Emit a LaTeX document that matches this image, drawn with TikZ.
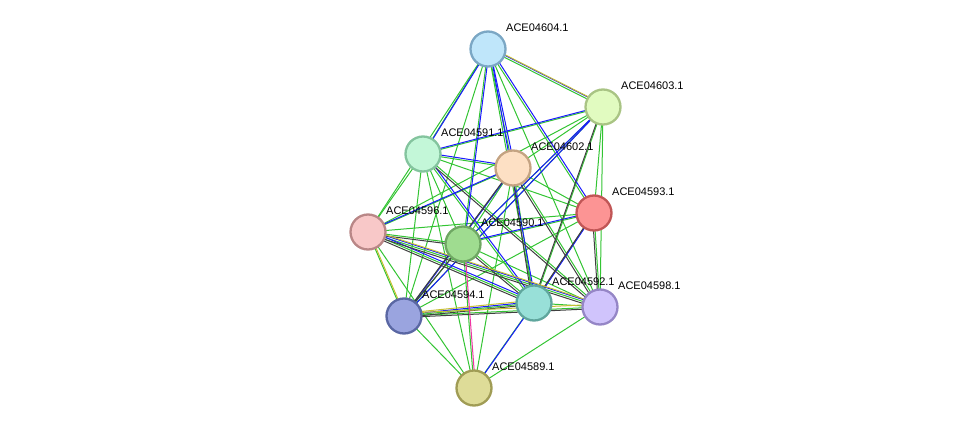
\documentclass[tikz,border=0pt]{standalone}
\usepackage{fontspec}
\setmainfont{Liberation Sans}
\begin{document}
\begin{tikzpicture}[x=1pt,y=-1pt,
  prot/.style={circle,minimum size=35pt,inner sep=0pt,line width=2.3pt},
  lab/.style={anchor=west,font=\fontsize{11}{12}\selectfont,inner sep=0pt},
  eb/.style={draw=blue!90,line width=1pt},
  ek/.style={draw=black!75,line width=1pt},
  ey/.style={draw=yellow!75!black,line width=1pt},
  em/.style={draw=magenta!80,line width=1pt}]
\useasboundingbox (0,0) rectangle (975,434);
\definecolor{g}{HTML}{33C433}
\tikzset{eg/.style={draw=g,line width=1pt}}
\foreach \n/\x/\y in {604/488/49,603/603/107,591/423/154,602/513/168,593/594/213,596/368/232,590/463/244,594/404/316,592/534/303,598/600/307,589/474/388}
  \coordinate (c\n) at (\x,\y);
% green edges
\foreach \a/\b in {604/603,604/591,604/602,604/593,604/596,604/590,604/594,604/592,604/598,
 603/591,603/602,603/593,603/596,603/590,603/594,603/592,603/598,
 591/602,591/593,591/596,591/590,591/594,591/592,591/598,591/589,
 602/593,602/596,602/590,602/594,602/592,602/598,602/589,
 593/596,593/590,593/594,593/592,593/598,
 596/590,596/594,596/592,596/598,596/589,
 590/594,590/592,590/598,590/589,
 594/592,594/598,594/589,592/598,592/589,598/589}
  \draw[eg] (c\a) -- (c\b);
% blue
\foreach \a/\b in {604/603,604/591,604/602,604/593,604/590,604/592,603/591,603/590,603/594,591/602,591/592,602/596,602/594,596/592,596/598,590/593,593/592,594/592,592/589}
  \draw[eb,transform canvas={xshift=1.5pt,yshift=1.5pt}] (c\a) -- (c\b);
% black
\foreach \a/\b in {602/592,602/598,602/594,591/598,596/590,596/592,596/598,590/592,594/592,594/598,593/592,593/598,603/592,590/594}
  \draw[ek,transform canvas={xshift=-1.5pt,yshift=-1.5pt}] (c\a) -- (c\b);
% yellow
\foreach \a/\b in {604/603,596/594,594/598,596/598,594/592}
  \draw[ey,transform canvas={xshift=0pt,yshift=2.8pt}] (c\a) -- (c\b);
\draw[em,transform canvas={xshift=1.5pt}] (c590) -- (c589);
% nodes
\foreach \n/\f/\d in {604/BFE6FA/7BA7C4,603/E1FBC0/A9C484,591/C3F7D8/84C49E,602/FDE0C4/C4A382,593/FC9494/C15656,596/F8C8C8/B98787,590/9FDC90/6FA863,594/9AA4DF/5A67A3,592/98E0D8/5FA69D,598/D0C4FC/9586C6,589/DEDC98/A09C55}{
  \definecolor{f\n}{HTML}{\f}\definecolor{d\n}{HTML}{\d}
  \node[prot,fill=f\n,draw=d\n] (n\n) at (c\n) {};
}
\foreach \n in {604,603,591,602,593,596,590,594,592,598,589}
  \node[lab] (l\n) at ([xshift=18pt,yshift=21pt]c\n) {ACE04\n.1};
\end{tikzpicture}
\end{document}
